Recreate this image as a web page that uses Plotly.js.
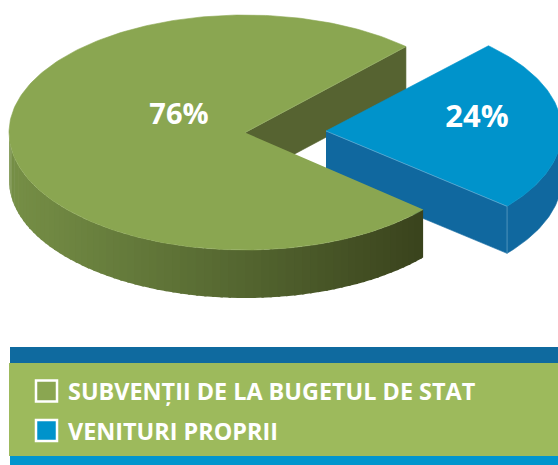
<!DOCTYPE html>
<html><head><meta charset="utf-8">
<script src="https://cdn.plot.ly/plotly-3.0.1.min.js"></script>
<style>html,body{margin:0;padding:0;background:#fff}#c{width:558px;height:465px}</style>
</head><body><div id="c"></div>
<script>
const categories = ['SUBVENȚII DE LA BUGETUL DE STAT', 'VENITURI PROPRII'];
const shares = [76, 24];
const topColors = ['#8aa651', '#0093cb'];

const FONT = '"Open Sans", "Noto Sans", sans-serif';
const rx = 236, ry = 117.5, depth = 48;
const blueStart = -46.5, greenStart = -47, greenTrim = 1.6;
const greenC = [245, 132.5], blueC = [326, 131];
const rad = d => d * Math.PI / 180;
const pt = (c, d) => [c[0] + rx * Math.cos(rad(d)), c[1] + ry * Math.sin(rad(d))];
const arc = (c, a, b, dy = 0) => {
  const out = [], n = Math.max(2, Math.ceil(Math.abs(b - a)));
  for (let i = 0; i <= n; i++) { const p = pt(c, a + (b - a) * i / n); out.push([p[0], p[1] + dy]); }
  return out;
};
const poly = (pts, color, extra = {}) => ({
  type: 'scatter', mode: 'lines', x: pts.map(p => p[0]), y: pts.map(p => p[1]),
  fill: 'toself', fillcolor: color, line: { color: color, width: extra.w ?? 0.6 }, hoverinfo: 'skip', showlegend: false
});
const edge = (a, b, color) => ({
  type: 'scatter', mode: 'lines', x: [a[0], b[0]], y: [a[1], b[1]],
  line: { color, width: 0.8 }, hoverinfo: 'skip', showlegend: false
});
const mix = (a, b, t) => 'rgb(' + a.map((v, i) => Math.round(v + (b[i] - v) * t)).join(',') + ')';
const shade = t => t < 0.55 ? mix([118, 143, 70], [84, 102, 48], t / 0.55) : mix([84, 102, 48], [57, 66, 28], (t - 0.55) / 0.45);

const sweep = s => s / 100 * 360;
const greenEnd = greenStart - sweep(shares[0]) + greenTrim;   // runs through the left side
const greenEndScreen = greenEnd + 360;
const bStart = blueStart, bEnd = blueStart + sweep(shares[1]);

const traces = [];
// inner cut face of the green slice
const gTopCut = pt(greenC, greenStart);
traces.push(poly([greenC, gTopCut, [gTopCut[0], gTopCut[1] + depth], [greenC[0], greenC[1] + depth]], '#566331'));
// blue side faces
const bLow = pt(blueC, bEnd);
traces.push(poly([blueC, bLow, [bLow[0], bLow[1] + depth - 1], [blueC[0], blueC[1] + depth - 1]], '#10689f'));
traces.push(poly([...arc(blueC, bEnd, -10), ...arc(blueC, -10, bEnd, depth - 1)], '#10689f'));
// blue top
traces.push(poly([blueC, ...arc(blueC, bStart, bEnd)], topColors[1]));
traces.push(edge(blueC, bLow, '#5aa9d2'));
traces.push(edge(bLow, [bLow[0], bLow[1] + depth - 1], '#5a9ac2'));
// green outer side, shaded left to right
for (let d = 180; d > greenEndScreen; d -= 2) {
  const e = Math.max(d - 2.6, greenEndScreen);
  const a = pt(greenC, d);
  const t = (a[0] - (greenC[0] - rx)) / (pt(greenC, greenEndScreen)[0] - (greenC[0] - rx));
  traces.push(poly([...arc(greenC, d, e), ...arc(greenC, e, d, depth)], shade(t), { w: 0 }));
}
// green top
traces.push(poly([greenC, ...arc(greenC, greenStart, greenEnd)], topColors[0]));
traces.push(edge(greenC, gTopCut, '#98b06a'));
// value labels
shares.forEach((v, i) => traces.push({
  type: 'scatter', mode: 'text', x: [[179, 477][i]], y: [[117, 119][i]],
  text: [v + '%'], textposition: 'middle center',
  textfont: { family: FONT, size: [29, 31][i], color: '#fff', weight: 700 }, hoverinfo: 'skip', showlegend: false
}));
// key
traces.push({
  type: 'scatter', mode: 'markers', x: [46.5, 46.5], y: [391, 430.5],
  marker: { symbol: 'square', size: 21, color: topColors, line: { color: '#fff', width: 2.5 } },
  hoverinfo: 'skip', showlegend: false
});
traces.push({
  type: 'scatter', mode: 'text', x: [68, 68], y: [394.5, 434.5],
  text: categories, textposition: 'middle right',
  textfont: { family: FONT, size: 23.4, color: '#fff', weight: 700 }, hoverinfo: 'skip', showlegend: false
});

const band = (x0, y0, y1, c) => ({ type: 'rect', xref: 'x', yref: 'y', x0, x1: 558, y0, y1, fillcolor: c, line: { width: 0 }, layer: 'below' });
const layout = {
  width: 558, height: 465, margin: { l: 0, r: 0, t: 0, b: 0 }, paper_bgcolor: '#fff', plot_bgcolor: '#fff', showlegend: false,
  xaxis: { range: [0, 558], visible: false, fixedrange: true },
  yaxis: { range: [465, 0], visible: false, fixedrange: true },
  shapes: [band(10, 347, 364, '#0f6a9f'), band(9, 363, 456, '#9dba5c'), band(10, 456, 465, '#0095cd')]
};
Plotly.newPlot('c', traces, layout, { displayModeBar: false, staticPlot: true });
</script></body></html>
